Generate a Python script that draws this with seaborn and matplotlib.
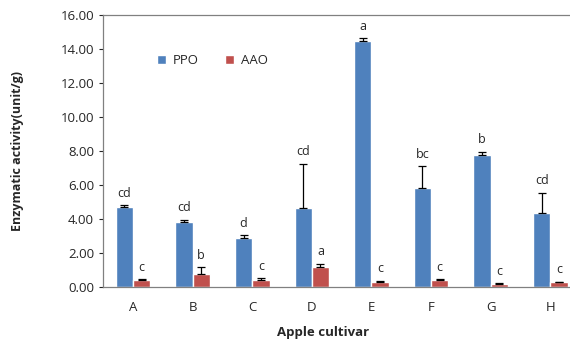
import pandas as pd
import numpy as np
import matplotlib.pyplot as plt
import seaborn as sns

cultivars = ['A', 'B', 'C', 'D', 'E', 'F', 'G', 'H']
ppo = [4.70, 3.85, 2.90, 4.65, 14.45, 5.80, 7.75, 4.35]
ppo_err = [0.10, 0.10, 0.15, 2.60, 0.20, 1.30, 0.20, 1.20]
aao = [0.40, 0.75, 0.40, 1.20, 0.30, 0.40, 0.15, 0.30]
aao_err = [0.05, 0.40, 0.10, 0.15, 0.05, 0.05, 0.05, 0.00]
ppo_letters = ['cd', 'cd', 'd', 'cd', 'a', 'bc', 'b', 'cd']
aao_letters = ['c', 'b', 'c', 'a', 'c', 'c', 'c', 'c']

df = pd.DataFrame({
    'cultivar': cultivars * 2,
    'value': ppo + aao,
    'enzyme': ['PPO'] * 8 + ['AAO'] * 8,
})

sns.set_style('white')
plt.rcParams['font.family'] = ['Open Sans', 'DejaVu Sans']

fig = plt.figure(figsize=(5.7, 3.44), dpi=100)
ax = fig.add_axes([0.181, 0.166, 0.819, 0.790])

sns.barplot(data=df, x='cultivar', y='value', hue='enzyme',
            palette={'PPO': '#4F81BD', 'AAO': '#C0504D'},
            width=0.58, errorbar=None, ax=ax, saturation=1)

for cont, vals, errs, letters in zip(ax.containers, [ppo, aao], [ppo_err, aao_err],
                                     [ppo_letters, aao_letters]):
    xs = [p.get_x() + p.get_width() / 2 for p in cont.patches]
    ax.errorbar(xs, vals, yerr=[np.zeros(len(errs)), errs], fmt='none',
                ecolor='black', elinewidth=0.9, capsize=3, capthick=0.9)
    for x, v, e, t in zip(xs, vals, errs, letters):
        ax.annotate(t, (x, v + e), xytext=(0, 4), textcoords='offset points',
                    ha='center', va='bottom', fontsize=9)

ax.set_ylim(0, 16)
ax.set_yticks(np.arange(0, 16.1, 2))
ax.set_yticklabels([f'{v:.2f}' for v in np.arange(0, 16.1, 2)], fontsize=9.5)
ax.set_xlim(-0.5, 7.33)
ax.tick_params(axis='x', length=0, pad=10, labelsize=9.5)
ax.tick_params(axis='y', length=3, direction='out', left=True, labelsize=9.5)

for s in ['left', 'bottom', 'top']:
    ax.spines[s].set_color('#808080')
    ax.spines[s].set_linewidth(0.9)
ax.spines['right'].set_visible(False)

ax.set_xlabel('Apple cultivar', fontsize=9.5, fontweight='bold')
ax.set_ylabel('Enzymatic activity(unit/g)', fontsize=9, fontweight='bold', labelpad=26)
ax.xaxis.set_label_coords(0.47, -0.145)

ax.legend(title=None, frameon=False, ncol=2, fontsize=9.5, loc='upper left',
          bbox_to_anchor=(0.09, 0.90), handlelength=0.7, handleheight=0.7,
          columnspacing=2.0, handletextpad=0.5)

fig.savefig('out.png', dpi=100)
